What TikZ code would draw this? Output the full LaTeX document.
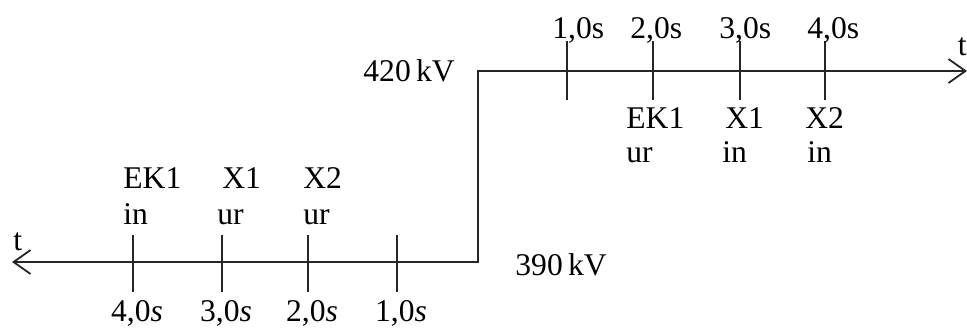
\documentclass[tikz,border=0pt]{standalone}
\usepackage{fontspec}
\setmainfont{Liberation Serif}
\usetikzlibrary{arrows.meta}

\begin{document}
\begin{tikzpicture}[x=0.5pt, y=-0.5pt,
    axis/.style={line width=0.9pt, black!85, {Straight Barb[length=8.5pt, width=12pt]}-{Straight Barb[length=8.5pt, width=12pt]}},
    tick/.style={line width=0.9pt, black!85},
    lbl/.style={inner sep=0pt, font=\fontsize{15.8}{17.5}\selectfont, anchor=base west}
  ]
    \useasboundingbox (0,0) rectangle (967,327);

    % voltage step 390 kV -> 420 kV
    \coordinate (lowend) at (12,262);
    \coordinate (corner) at (478,262);
    \coordinate (kink) at (478,71);
    \coordinate (highend) at (967,71);
    \draw[axis] (lowend) -- (corner) -- (kink) -- (highend);

    \node[lbl] (hv) at (363,81) {420\,kV};
    \node[lbl] (lv) at (515,275) {390\,kV};
    \node[lbl, anchor=base east] (thigh) at (967,55) {t};
    \node[lbl] (tlow) at (13,250) {t};

    % lower time axis
    \foreach \x/\t [count=\i] in {133/4, 222/3, 308/2, 397/1} {
      \coordinate (lt\i) at (\x,235);
      \coordinate (lb\i) at (\x,292);
      \draw[tick] (lt\i) -- (lb\i);
      \node[lbl, anchor=base] (ls\i) at (\x+4,321) {\t,0\textit{s}};
    }

    % upper time axis
    \foreach \x/\l/\t [count=\i] in {567/552/1, 653/630/2, 740/719/3, 825/807/4} {
      \coordinate (ut\i) at (\x,41);
      \coordinate (ub\i) at (\x,100);
      \draw[tick] (ut\i) -- (ub\i);
      \node[lbl] (us\i) at (\l,38) {\t,0s};
    }

    % breakers, lower side
    \node[lbl] (ekl) at (123,188) {EK1};
    \node[lbl] (ekls) at (123,224) {in};
    \node[lbl] (xal) at (222,188) {X1};
    \node[lbl] (xals) at (217,224) {ur};
    \node[lbl] (xbl) at (303,188) {X2};
    \node[lbl] (xbls) at (303,224) {ur};

    % breakers, upper side
    \node[lbl] (eku) at (626,128) {EK1};
    \node[lbl] (ekus) at (626,162) {ur};
    \node[lbl] (xau) at (725,128) {X1};
    \node[lbl] (xaus) at (722,162) {in};
    \node[lbl] (xbu) at (805,128) {X2};
    \node[lbl] (xbus) at (807,162) {in};

\end{tikzpicture}
\end{document}
